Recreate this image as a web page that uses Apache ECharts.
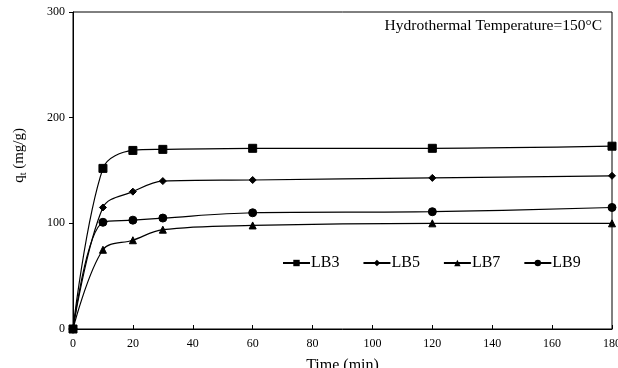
<!DOCTYPE html>
<html>
<head>
<meta charset="utf-8">
<script src="https://cdn.jsdelivr.net/npm/echarts@6/dist/echarts.min.js"></script>
<style>
  html, body { margin: 0; padding: 0; background: #fff; }
  #chart { width: 618px; height: 368px; }
</style>
</head>
<body>
<div id="chart"></div>
<script>
// Adsorption time points (min)
const times = [0, 10, 20, 30, 60, 120, 180];

// Adsorbed amount q_t (mg/g) for each sample
const lb3 = [0, 152, 169, 170, 171, 171, 173];
const lb5 = [0, 115, 130, 140, 141, 143, 145];
const lb7 = [0, 75, 84, 94, 98, 100, 100];
const lb9 = [0, 101, 103, 105, 110, 111, 115];

const seriesNames = ['LB3', 'LB5', 'LB7', 'LB9'];
const xTicks = [0, 20, 40, 60, 80, 100, 120, 140, 160, 180];
const yTicks = [0, 100, 200, 300];

const serif = '"Liberation Serif", "DejaVu Serif", serif';

function pairs(vals) {
  return times.map((t, i) => [t, vals[i]]);
}

const symbols = [
  { symbol: 'rect', size: 8 },
  { symbol: 'diamond', size: 7 },
  { symbol: 'triangle', size: 7 },
  { symbol: 'circle', size: 8 }
];

const allValues = [lb3, lb5, lb7, lb9];

const chart = echarts.init(document.getElementById('chart'), null, { renderer: 'canvas' });

chart.setOption({
  backgroundColor: '#fff',
  animation: false,
  grid: {
    left: 73, right: 6, top: 12, bottom: 39,
    outerBoundsMode: 'none',
    containLabel: false,
    show: true, borderColor: '#000', borderWidth: 1, backgroundColor: 'transparent'
  },
  title: {
    text: 'Hydrothermal Temperature=150°C',
    right: 16, top: 18, padding: 0,
    textStyle: { fontFamily: serif, fontSize: 15.5, fontWeight: 'normal', color: '#000' }
  },
  legend: {
    data: seriesNames,
    left: 277, top: 250,
    itemWidth: 27, itemHeight: 8, itemGap: 23,
    textStyle: { fontFamily: serif, fontSize: 16, color: '#000', padding: [0, 0, 0, -4] }
  },
  graphic: [{
    type: 'text',
    left: 12, top: 128,
    rotation: Math.PI / 2,
    style: {
      text: '{q|q}{s|t}{q| (mg/g)}',
      rich: {
        q: { fontFamily: serif, fontSize: 15, fill: '#000' },
        s: { fontFamily: serif, fontSize: 10, fill: '#000', padding: [8, 0, 0, 0] }
      },
      fill: '#000'
    }
  }],
  xAxis: {
    type: 'value',
    min: 0, max: 180, interval: 20,
    name: 'Time (min)',
    nameLocation: 'middle',
    nameGap: 29,
    nameTextStyle: { fontFamily: serif, fontSize: 16, color: '#000' },
    axisLine: { lineStyle: { color: '#000', width: 1 } },
    axisTick: { inside: true, length: 4, lineStyle: { color: '#000' } },
    axisLabel: {
      fontFamily: serif, fontSize: 12, color: '#000', margin: 9,
      formatter: v => (xTicks.indexOf(v) >= 0 ? String(v) : '')
    },
    splitLine: { show: false }
  },
  yAxis: {
    type: 'value',
    min: 0, max: 300, interval: 100,
    axisLine: { show: true, lineStyle: { color: '#000', width: 1 } },
    axisTick: { show: true, inside: false, length: 4, lineStyle: { color: '#000' } },
    axisLabel: {
      fontFamily: serif, fontSize: 12, color: '#000', margin: 8,
      formatter: v => (yTicks.indexOf(v) >= 0 ? String(v) : '')
    },
    splitLine: { show: false }
  },
  series: seriesNames.map((name, i) => ({
    name: name,
    type: 'line',
    data: pairs(allValues[i]),
    smooth: 0.35,
    symbol: symbols[i].symbol,
    symbolSize: symbols[i].size,
    showAllSymbol: true,
    lineStyle: { color: '#000', width: 1.2 },
    itemStyle: { color: '#000', borderColor: '#000' },
    emphasis: { disabled: true }
  }))
});
</script>
</body>
</html>
